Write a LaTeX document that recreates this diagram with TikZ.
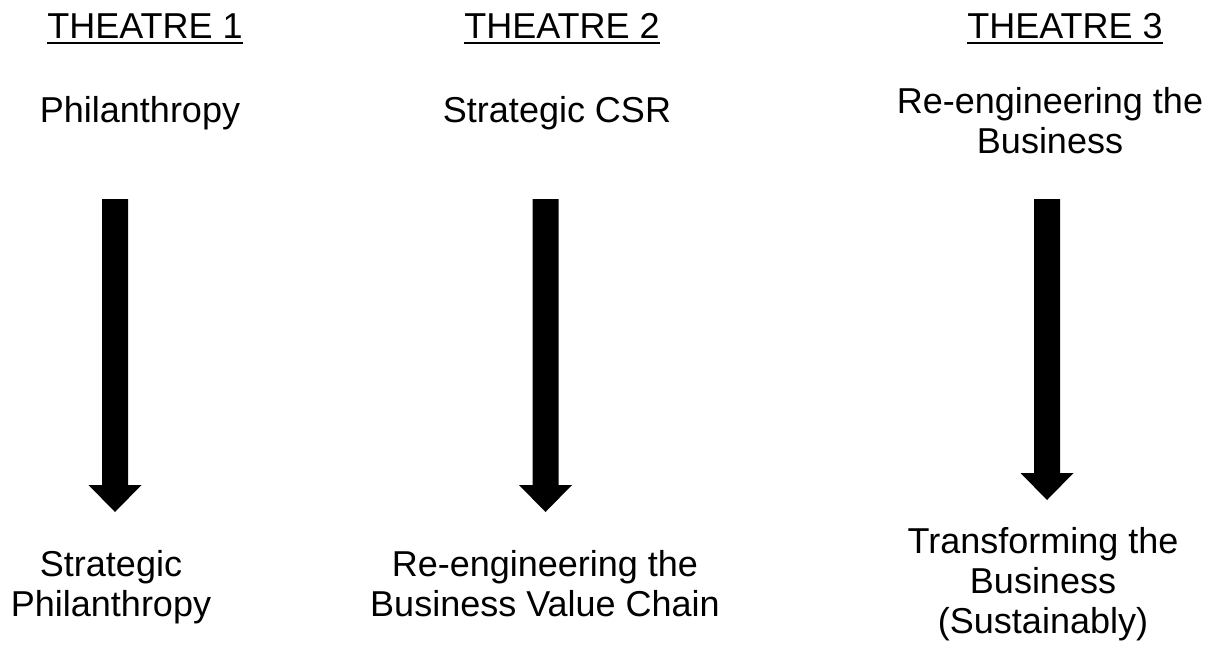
\documentclass[tikz,border=0pt]{standalone}
\usepackage{fontspec}
\setmainfont{Liberation Sans}
\usetikzlibrary{calc}
\tikzset{
  lbl/.style={anchor=base, inner sep=0pt, font=\fontsize{36}{40}\selectfont},
  uline/.style={line width=2.2pt},
  bigarrow/.style={fill=black, draw=none}
}
\newcommand{\mybigarrow}[2]{%
  \fill[bigarrow] ($(#1)+(-13,0)$) -- ($(#1)+(13,0)$) -- ($(#2)+(13,-27)$) -- ($(#2)+(26.5,-27)$) -- (#2) -- ($(#2)+(-26.5,-27)$) -- ($(#2)+(-13,-27)$) -- cycle;}
\begin{document}
\begin{tikzpicture}[x=1pt,y=-1pt]
\useasboundingbox[fill=white] (0,0) rectangle (1222,648);
% titles
\node[lbl] (t1) at (145,38) {THEATRE 1};
\node[lbl] (t2) at (562,38) {THEATRE 2};
\node[lbl] (t3) at (1065,38) {THEATRE 3};
\foreach \t in {t1,t2,t3}
  \draw[uline] ([yshift=-5pt]\t.base west) -- ([yshift=-5pt]\t.base east);
% top labels
\node[lbl] (a1) at (140,122) {Philanthropy};
\node[lbl] (a2) at (557,122) {Strategic CSR};
\node[lbl] (a3) at (1050,113) {\begin{tabular}[t]{@{}c@{}}Re-engineering the\\Business\end{tabular}};
% bottom labels
\node[lbl] (b1) at (111,576) {\begin{tabular}[t]{@{}c@{}}Strategic\\Philanthropy\end{tabular}};
\node[lbl] (b2) at (545,576) {\begin{tabular}[t]{@{}c@{}}Re-engineering the\\Business Value Chain\end{tabular}};
\node[lbl] (b3) at (1043,553) {\begin{tabular}[t]{@{}c@{}}Transforming the\\Business\\(Sustainably)\end{tabular}};
% arrows
\coordinate (s1) at (115,199); \coordinate (e1) at (115,512);
\coordinate (s2) at (545.5,199); \coordinate (e2) at (545.5,512);
\coordinate (s3) at (1047,199); \coordinate (e3) at (1047,500);
\mybigarrow{s1}{e1}
\mybigarrow{s2}{e2}
\mybigarrow{s3}{e3}
\end{tikzpicture}
\end{document}
